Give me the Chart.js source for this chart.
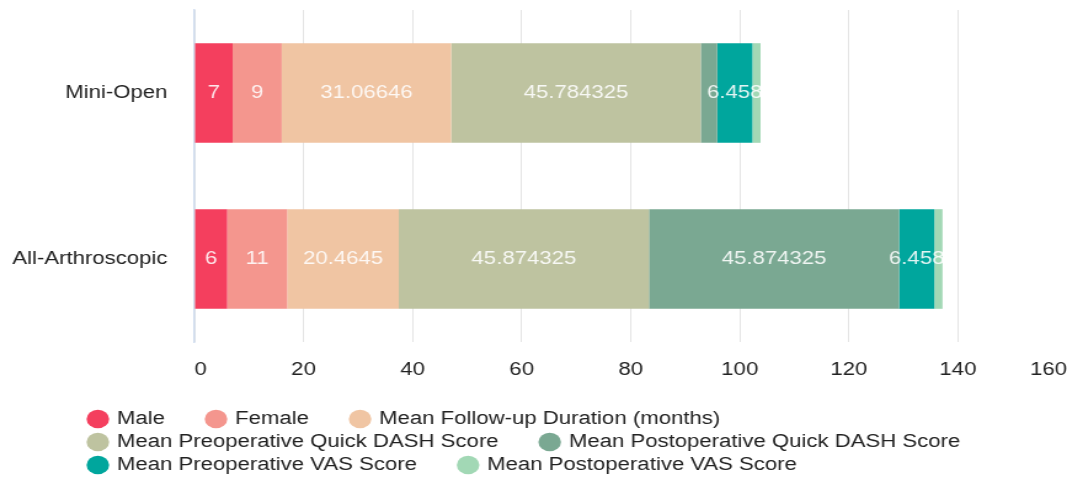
<!DOCTYPE html>
<html lang="en">
<head>
    <meta charset="UTF-8">
    <title>Mini-Open vs All-Arthroscopic</title>
    <script src="https://cdn.jsdelivr.net/npm/chart.js"></script>
    <style>
        html, body {
            margin: 0;
            padding: 0;
            background: #fff;
            overflow: hidden;
        }
        /* the source picture is stretched sideways, so stretch the canvas the same way */
        #groupChart {
            display: block;
            transform: scaleX(1.2307);
            transform-origin: 0 0;
        }
    </style>
</head>
<body>

<canvas id="groupChart" width="867" height="479"></canvas>

<script>
    // Chart data
    const categories = ['Mini-Open', 'All-Arthroscopic'];
    const seriesNames = [
        'Male',
        'Female',
        'Mean Follow-up Duration (months)',
        'Mean Preoperative Quick DASH Score',
        'Mean Postoperative Quick DASH Score',
        'Mean Preoperative VAS Score',
        'Mean Postoperative VAS Score'
    ];
    const male = [7, 6];
    const female = [9, 11];
    const followUp = [31.06646, 20.4645];
    const preDash = [45.784325, 45.874325];
    const postDash = [3.0, 45.874325];
    const preVas = [6.458, 6.458];
    const postVas = [1.5, 1.5];
    const xTickMax = 160;
    const xTickStep = 20;

    const seriesValues = [male, female, followUp, preDash, postDash, preVas, postVas];
    const seriesColors = ['#F43F5E', '#F4968E', '#F0C5A3', '#BEC3A0', '#7AA892', '#00A69D', '#A2D8B5'];

    Chart.defaults.font.family = "'Liberation Sans', Arial, Helvetica, sans-serif";
    Chart.defaults.font.size = 18;
    Chart.defaults.color = '#222';

    // writes the value in the middle of each segment that is wide enough
    const segmentLabels = {
        id: 'segmentLabels',
        afterDatasetsDraw(chart) {
            const ctx = chart.ctx;
            ctx.save();
            ctx.font = "18px 'Liberation Sans', Arial, sans-serif";
            ctx.fillStyle = 'rgba(255, 255, 255, 0.88)';
            ctx.textAlign = 'center';
            ctx.textBaseline = 'middle';
            chart.data.datasets.forEach((ds, i) => {
                chart.getDatasetMeta(i).data.forEach((bar, j) => {
                    const v = ds.data[j];
                    if (v < 5) return;
                    const p = bar.getCenterPoint();
                    ctx.fillText(String(v), p.x, p.y);
                });
            });
            ctx.restore();
        }
    };

    // the legend rows start further right than the category labels
    const legendIndent = {
        id: 'legendIndent',
        afterLayout(chart) {
            chart.legend.left += 68;
            chart.legend.right += 68;
        }
    };

    const ctx = document.getElementById('groupChart').getContext('2d');
    new Chart(ctx, {
        type: 'bar',
        data: {
            labels: categories,
            datasets: seriesNames.map((name, i) => ({
                label: name,
                data: seriesValues[i],
                backgroundColor: seriesColors[i],
                borderWidth: 0,
                categoryPercentage: 0.8,
                barPercentage: 0.75
            }))
        },
        options: {
            indexAxis: 'y',
            responsive: false,
            animation: false,
            layout: {
                padding: { top: 10, left: 0, right: 0, bottom: 0 }
            },
            plugins: {
                legend: {
                    position: 'bottom',
                    align: 'start',
                    maxHeight: 74,
                    labels: {
                        usePointStyle: true,
                        pointStyle: 'circle',
                        boxWidth: 13,
                        boxHeight: 13,
                        padding: 5,
                        color: '#222',
                        font: { size: 18 },
                        generateLabels(chart) {
                            // trailing spaces widen the gap between items without spreading the rows
                            return Chart.defaults.plugins.legend.labels.generateLabels(chart)
                                .map(item => Object.assign(item, { text: item.text + '      ' }));
                        }
                    }
                },
                tooltip: { enabled: false }
            },
            scales: {
                x: {
                    stacked: true,
                    min: 0,
                    max: xTickMax,
                    ticks: {
                        stepSize: xTickStep,
                        align: 'inner',
                        padding: 17,
                        color: '#222',
                        font: { size: 18 }
                    },
                    grid: {
                        color: '#e4e4e4',
                        lineWidth: 1,
                        drawTicks: false
                    },
                    border: { display: false },
                    afterFit(scale) {
                        scale.paddingRight = 0;
                        scale.height = 63;
                    }
                },
                y: {
                    stacked: true,
                    ticks: {
                        padding: 22,
                        color: '#222',
                        font: { size: 18 }
                    },
                    grid: { display: false, drawTicks: false },
                    border: { display: true, color: '#cfdcef', width: 1.5 },
                    afterFit(scale) {
                        scale.width = 158;
                        scale.paddingTop = 0;
                        scale.paddingBottom = 0;
                    }
                }
            }
        },
        plugins: [segmentLabels, legendIndent]
    });
</script>

</body>
</html>
